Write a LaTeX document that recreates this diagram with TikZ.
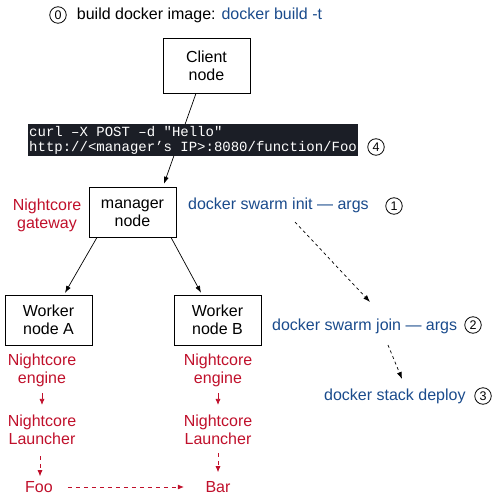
\documentclass[tikz,border=0pt]{standalone}
\usepackage{fontspec}
\setmainfont{Liberation Sans}
\setmonofont{Liberation Mono}
\usetikzlibrary{arrows.meta}
\definecolor{ncred}{HTML}{C0102B}
\definecolor{dkblue}{HTML}{1A4B8C}
\definecolor{codebg}{HTML}{1B1E26}
\begin{document}
\begin{tikzpicture}[x=1pt,y=-1pt,
  every node/.style={font=\fontsize{16}{18}\selectfont, inner sep=0pt},
  box/.style={draw, line width=0.8pt, minimum width=87pt, align=center},
  num/.style={circle, draw, line width=0.8pt, minimum size=16.5pt, font=\fontsize{12.5}{12.5}\selectfont},
  redtxt/.style={text=ncred, align=center},
  bluetxt/.style={text=dkblue},
  arr/.style={-{Latex[length=7pt,width=5pt]}, line width=0.7pt},
  dasharr/.style={arr, dash pattern=on 3pt off 3pt},
  redarr/.style={-{Latex[length=6pt,width=5pt]}, line width=0.7pt, draw=ncred},
  reddash/.style={redarr, dash pattern=on 4pt off 4pt}
]
\useasboundingbox (0,0) rectangle (492,502);

% title
\node[num] (n0) at (58,15) {0};
\node (title) at (199.5,15) {build docker image: \textcolor{dkblue}{docker build -t}};

% boxes
\node[box, minimum height=55pt] (client) at (206.5,65.5) {Client\\node};
\node[box, minimum height=50pt] (manager) at (132.5,212) {\vphantom{l}manager\\node};
\node[box, minimum height=50pt] (workerA) at (48.5,320) {Worker\\node A};
\node[box, minimum height=50pt] (workerB) at (217.5,320) {Worker\\node B};

% client -> manager (behind code box)
\draw[arr, shorten >=3pt] ([xshift=-10.5pt]client.south) -- ([xshift=30.5pt]manager.north);

% code
\node[fill=codebg, text=white, font=\ttfamily\fontsize{14}{15}\selectfont, align=left, anchor=west, minimum height=32pt, inner xsep=1pt] (code) at (28,140) {curl –X POST –d "Hello"\\http://<manager’s IP>:8080/function/Foo};
\node[num] (n4) at (376,147) {4};

% manager -> workers
\draw[arr, shorten >=2pt] ([xshift=-35.5pt]manager.south) -- ([xshift=15.5pt]workerA.north);
\draw[arr, shorten >=2pt] ([xshift=38.5pt]manager.south) -- ([xshift=-15.5pt]workerB.north);

% side labels
\node[redtxt] (gw) at (47,215) {Nightcore\\gateway};
\node[bluetxt, anchor=west] (init) at (188,205) {docker swarm init — args};
\node[num] (n1) at (394,206) {1};
\node[bluetxt, anchor=west] (join) at (272,326) {docker swarm join — args};
\node[num] (n2) at (473,325) {2};
\node[bluetxt, anchor=west] (deploy) at (324,396) {docker stack deploy};
\node[num] (n3) at (483,396) {3};

\coordinate (d1s) at (295,222);
\coordinate (d1e) at (370,302);
\coordinate (d2s) at (388,345);
\coordinate (d2e) at (402,379);
\draw[dasharr] (d1s) -- (d1e);
\draw[dasharr] (d2s) -- (d2e);

% column A
\node[redtxt] (engA) at (42,370) {Nightcore\\engine};
\node[redtxt] (lchA) at (42,430) {Nightcore\\Launcher};
\node[text=ncred] (foo) at (39,487) {Foo};
% column B
\node[redtxt] (engB) at (218,370) {Nightcore\\engine};
\node[redtxt] (lchB) at (218,430) {Nightcore\\Launcher};
\node[text=ncred] (bar) at (218,487) {Bar};

\draw[redarr, shorten <=6.5pt, shorten >=10pt] (engA.south) -- (lchA.north);
\draw[redarr, shorten <=6.5pt, shorten >=10pt] (engB.south) -- (lchB.north);
\draw[reddash, shorten <=11pt, shorten >=5pt] ([xshift=-2pt]lchA.south) -- ([xshift=1pt]foo.north);
\draw[reddash, shorten <=8pt, shorten >=9pt] (lchB.south) -- (bar.north);
\draw[reddash, shorten <=15pt, shorten >=21.5pt] (foo.east) -- (bar.west);
\end{tikzpicture}
\end{document}
